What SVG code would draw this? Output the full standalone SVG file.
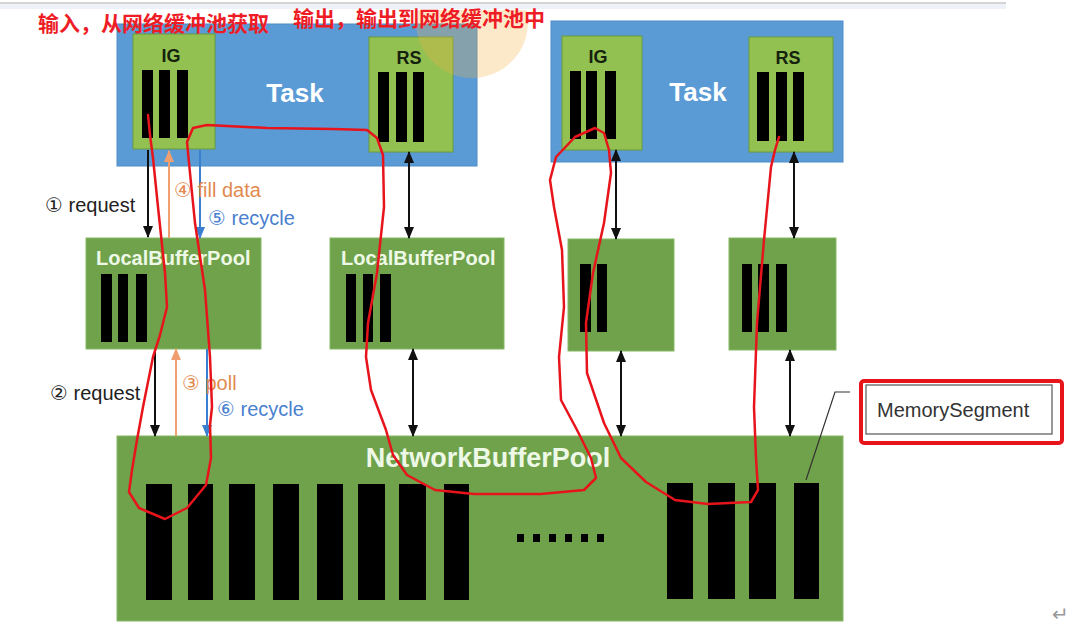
<svg xmlns="http://www.w3.org/2000/svg" width="1083" height="643" viewBox="0 0 1083 643">
<style>
.task{fill:#5b9bd5;stroke:#4f8cc6;stroke-width:1}
.sub{fill:#92c152;stroke:#6b9a3c;stroke-width:1}
.pool{fill:#6fa24a;stroke:#86b866;stroke-width:1}
.bar{fill:#000}
.tl{font-family:"Liberation Sans","DejaVu Sans",sans-serif;font-weight:bold;font-size:26px;fill:#fff;text-anchor:middle}
.sl{font-family:"Liberation Sans","DejaVu Sans",sans-serif;font-weight:bold;font-size:18px;fill:#15220d;text-anchor:middle}
.pl{font-family:"Liberation Sans","DejaVu Sans",sans-serif;font-weight:bold;font-size:20px;fill:#eef8e6}
.lab{font-family:"Liberation Sans","DejaVu Sans",sans-serif;font-size:20px}
.cn{font-family:"Liberation Sans","Noto Sans CJK SC",sans-serif;font-weight:bold;font-size:21px;fill:#ee1c25}
.blk{stroke:#111;stroke-width:2;fill:none}
.org{stroke:#f0a070;stroke-width:2;fill:none}
.blu{stroke:#3a7fd0;stroke-width:2;fill:none}
</style>
<defs>
<marker id="ab" markerUnits="userSpaceOnUse" markerWidth="13" markerHeight="13" refX="11" refY="6.5" orient="auto-start-reverse" viewBox="0 0 13 13"><path d="M0,1.5 L12,6.5 L0,11.5 Z" fill="#111"/></marker>
<marker id="ao" markerUnits="userSpaceOnUse" markerWidth="13" markerHeight="13" refX="11" refY="6.5" orient="auto" viewBox="0 0 13 13"><path d="M0,1.5 L12,6.5 L0,11.5 Z" fill="#f0a070"/></marker>
<marker id="au" markerUnits="userSpaceOnUse" markerWidth="13" markerHeight="13" refX="11" refY="6.5" orient="auto" viewBox="0 0 13 13"><path d="M0,1.5 L12,6.5 L0,11.5 Z" fill="#3a7fd0"/></marker>
<clipPath id="glowclip"><rect x="0" y="10" width="1083" height="633"/></clipPath>
</defs>
<rect width="1083" height="643" fill="#fff"/>
<rect x="0" y="2" width="1006" height="2" fill="#d4d4d4"/>
<rect x="0" y="4" width="1006" height="5" fill="#eef2f8"/>

<g id="task-left">
<rect class="task" x="117" y="24" width="360" height="142"/>
<text class="tl" x="295" y="102">Task</text>
</g>
<g id="ig-left">
<rect class="sub" x="133" y="34" width="82" height="115"/>
<text class="sl" x="171" y="62">IG</text>
<rect class="bar" x="142" y="70" width="11" height="68"/>
<rect class="bar" x="159" y="70" width="11" height="68"/>
<rect class="bar" x="177" y="70" width="11" height="68"/>
</g>
<g id="rs-left">
<rect class="sub" x="369" y="37" width="84" height="115"/>
<text class="sl" x="409" y="64">RS</text>
<rect class="bar" x="378" y="72" width="11" height="70"/>
<rect class="bar" x="396" y="72" width="11" height="70"/>
<rect class="bar" x="413" y="72" width="11" height="70"/>
</g>

<g id="task-right">
<rect class="task" x="551" y="21" width="292" height="141"/>
<text class="tl" x="698" y="101">Task</text>
</g>
<g id="ig-right">
<rect class="sub" x="562" y="36" width="80" height="114"/>
<text class="sl" x="598" y="63">IG</text>
<rect class="bar" x="570" y="71" width="11" height="68"/>
<rect class="bar" x="586" y="71" width="11" height="68"/>
<rect class="bar" x="605" y="71" width="11" height="68"/>
</g>
<g id="rs-right">
<rect class="sub" x="749" y="37" width="84" height="115"/>
<text class="sl" x="788" y="64">RS</text>
<rect class="bar" x="757" y="72" width="12" height="69"/>
<rect class="bar" x="776" y="72" width="11" height="69"/>
<rect class="bar" x="793" y="72" width="11" height="69"/>
</g>

<g id="glow" clip-path="url(#glowclip)">
<circle cx="472" cy="22" r="56" fill="#f5b041" opacity="0.28"/>
</g>

<g id="titles">
<text class="cn" x="38" y="31">输入，从网络缓冲池获取</text>
<text class="cn" x="293" y="26">输出，输出到网络缓冲池中</text>
</g>

<g id="lbp-1">
<rect class="pool" x="86" y="238" width="175" height="111"/>
<text class="pl" x="96" y="265">LocalBufferPool</text>
<rect class="bar" x="101" y="274" width="11" height="68"/>
<rect class="bar" x="118" y="274" width="10" height="68"/>
<rect class="bar" x="136" y="274" width="11" height="68"/>
</g>
<g id="lbp-2">
<rect class="pool" x="330" y="238" width="174" height="111"/>
<text class="pl" x="341" y="265">LocalBufferPool</text>
<rect class="bar" x="346" y="274" width="10" height="68"/>
<rect class="bar" x="363" y="274" width="10" height="68"/>
<rect class="bar" x="380" y="274" width="11" height="68"/>
</g>
<g id="lbp-3">
<rect class="pool" x="568" y="239" width="106" height="112"/>
<rect class="bar" x="580" y="264" width="11" height="68"/>
<rect class="bar" x="597" y="264" width="10" height="68"/>
</g>
<g id="lbp-4">
<rect class="pool" x="729" y="238" width="107" height="112"/>
<rect class="bar" x="742" y="264" width="10" height="68"/>
<rect class="bar" x="758" y="264" width="11" height="68"/>
<rect class="bar" x="776" y="264" width="11" height="68"/>
</g>

<g id="nbp">
<rect class="pool" x="117" y="436" width="726" height="185"/>
<text class="pl" x="488" y="467" text-anchor="middle" style="font-size:27px">NetworkBufferPool</text>
<rect class="bar" x="146" y="484" width="26" height="116"/>
<rect class="bar" x="188" y="484" width="25" height="116"/>
<rect class="bar" x="229" y="484" width="26" height="116"/>
<rect class="bar" x="273" y="484" width="26" height="116"/>
<rect class="bar" x="317" y="484" width="26" height="116"/>
<rect class="bar" x="358" y="484" width="27" height="116"/>
<rect class="bar" x="399" y="484" width="27" height="116"/>
<rect class="bar" x="444" y="484" width="25" height="116"/>
<rect class="bar" x="517" y="534" width="7" height="8"/>
<rect class="bar" x="533" y="534" width="7" height="8"/>
<rect class="bar" x="549" y="534" width="7" height="8"/>
<rect class="bar" x="565" y="534" width="7" height="8"/>
<rect class="bar" x="581" y="534" width="7" height="8"/>
<rect class="bar" x="597" y="534" width="7" height="8"/>
<rect class="bar" x="667" y="483" width="26" height="116"/>
<rect class="bar" x="708" y="483" width="27" height="116"/>
<rect class="bar" x="749" y="483" width="27" height="116"/>
<rect class="bar" x="794" y="483" width="25" height="116"/>
</g>

<g id="memory-segment">
<rect x="861" y="381" width="201" height="62" rx="3" fill="#fff" stroke="#e8141c" stroke-width="4"/>
<rect x="866" y="385" width="186" height="49" fill="#fff" stroke="#555" stroke-width="1.2"/>
<text class="lab" x="877" y="417" fill="#333">MemorySegment</text>
</g>

<g id="connectors">
<line class="blk" x1="148" y1="150" x2="148" y2="237" marker-end="url(#ab)"/>
<line class="org" x1="169" y1="238" x2="169" y2="151" marker-end="url(#ao)"/>
<line class="blu" x1="200" y1="150" x2="200" y2="238" marker-end="url(#au)"/>
<line class="blk" x1="155" y1="349" x2="155" y2="436" marker-end="url(#ab)"/>
<line class="org" x1="176" y1="436" x2="176" y2="349" marker-end="url(#ao)"/>
<line class="blu" x1="207" y1="349" x2="207" y2="436" marker-end="url(#au)"/>
<line class="blk" x1="409" y1="152" x2="409" y2="238" marker-start="url(#ab)" marker-end="url(#ab)"/>
<line class="blk" x1="413" y1="349" x2="413" y2="436" marker-start="url(#ab)" marker-end="url(#ab)"/>
<line class="blk" x1="616" y1="150" x2="616" y2="239" marker-start="url(#ab)" marker-end="url(#ab)"/>
<line class="blk" x1="621" y1="351" x2="621" y2="436" marker-start="url(#ab)" marker-end="url(#ab)"/>
<line class="blk" x1="794" y1="152" x2="794" y2="238" marker-start="url(#ab)" marker-end="url(#ab)"/>
<line class="blk" x1="790" y1="350" x2="790" y2="436" marker-start="url(#ab)" marker-end="url(#ab)"/>
<polyline points="850,392 835,392 806,480" fill="none" stroke="#333" stroke-width="1.2"/>
</g>

<g id="labels">
<text class="lab" x="45" y="212" fill="#222">① request</text>
<text class="lab" x="174" y="197" fill="#e28a4f">④ fill data</text>
<text class="lab" x="208" y="225" fill="#4a7fcf">⑤ recycle</text>
<text class="lab" x="50" y="400" fill="#222">② request</text>
<text class="lab" x="182" y="390" fill="#e28a4f">③ poll</text>
<text class="lab" x="217" y="416" fill="#4a7fcf">⑥ recycle</text>
</g>

<g id="annotation">
<polyline fill="none" stroke="#e8141c" stroke-width="2.5" stroke-linejoin="round" stroke-linecap="round" points="148,115 150,135 153,158 158,207 165,273 167,307 160,335 153,357 143,407 137,440 132,470 129,492 139,508 165,519 187,508 206,485 211,458 210,425 212,407 210,357 205,290 195,223 190,173 187,142 193,128 207,125 267,128 333,129 367,130 377,138 383,155 384,207 377,273 368,323 366,357 371,390 386,430 393,455 407,475 435,490 474,494 541,494 584,490 596,478 591,458 577,430 561,400 559,357 564,307 562,250 554,207 550,180 556,157 575,137 595,128 604,133 609,150 611,173 604,223 593,273 586,323 587,373 604,423 621,458 646,482 675,500 708,504 751,502 758,490 756,458 754,407 757,323 764,240 771,167 775,150 779,137"/>
</g>

<text x="1052" y="621" font-family="DejaVu Sans, sans-serif" font-size="20" fill="#999">↵</text>
</svg>
